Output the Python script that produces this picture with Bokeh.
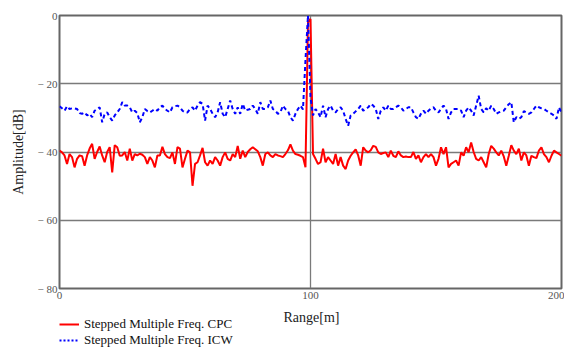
from bokeh.plotting import figure
from bokeh.models import Legend, LegendItem, Range1d, FixedTicker
from bokeh.layouts import column
from bokeh.core.properties import value
from bokeh.embed import file_html
from bokeh.resources import INLINE

range_m = list(range(201))

cpc_db = [
    -39.6, -40.1, -41, -43.5, -40.6, -41.5, -44.5, -42, -41, -41.2, -44, -41, -39, -37.6, -42, -40, -38.4,
    -41, -43, -40, -38.6, -46, -38, -38.6, -41.1, -41, -40, -42.5, -39, -42.5, -40.6, -41, -40.5,
    -40.8, -41.5, -43.5, -41.5, -42.5, -44.5, -41, -41, -38.5, -40.6, -41.5, -41.8, -40.1, -43.5, -38.6,
    -39, -44.5, -42, -39.6, -40.1, -49.9, -43.5, -43, -41, -38.8, -43, -44, -42.5, -43.5, -41.5, -42.5,
    -44, -41.5, -40.1,
    -42, -42.5, -40.6, -41.5, -38.2, -42, -39.6, -41.5, -40, -39.2, -38.6, -39.2, -39.8, -41.5, -44,
    -40.6, -40.1, -41, -41.5, -40.6, -41, -41.2, -41.5, -40.6, -39.5, -37.8, -39.6, -40.6, -40.8, -41.1,
    -41.5, -44.5,
    -2, -1, -40.6,
    -42, -43.5, -43, -39, -43, -41.5, -42.5, -43.5, -40.6, -44, -41.5, -44, -45, -42.5, -41.1, -40.1,
    -39.2, -41, -44, -38.6, -39.6, -40.1, -39.5, -38.2, -38.5, -40.1, -40.6, -40.3, -40.1, -41.5, -39.6,
    -41.1, -41.5,
    -39.8, -41, -41.5, -41.3, -41.5, -41.5, -40, -42, -41, -43, -41.5, -40.6, -41.5, -40.6, -41.5, -44,
    -42, -38.6, -40.6, -38.6, -44.5, -43.5, -43, -42.5, -44, -40.1, -41.1, -38.6, -40.1, -37.2, -40,
    -42, -42.5,
    -41.5, -43, -44.5, -40.6, -38.2, -39, -40.1, -41, -39.6, -41.3, -44, -41.1, -38, -39.6, -40.6, -39,
    -42.5, -40.1, -41, -44, -41.1, -41.5, -41.8, -39.6, -38.6, -40.6, -41.5, -43, -41.1, -39.6, -40.1,
    -40.6, -41.1,
]

icw_db = [
    -26.6, -27.2, -27.9, -26.6, -27.4, -27.2, -27.2, -27.4, -28.6, -28.8, -28.4, -29.3, -28.8, -29.8,
    -27.9, -27.4, -26.9, -31.3, -28.8, -28.4, -29.8, -30.8, -29.3, -28.4, -27.4, -25.4, -26.4, -26.4,
    -26.9, -28.4, -27.9, -28.6, -31.3,
    -29.8, -27.4, -28, -28.4, -27.9, -27.4, -27.9, -26.9, -26.4, -27.4, -27.9, -28.4, -26.9, -26.6,
    -26.4, -26.9, -27.9, -28.4, -28.4, -27.4, -26.9, -27.9, -26.4, -25.4, -25.9, -30.8, -26.4, -27.4,
    -28.8, -29.8, -28.4, -25.4, -28.8, -29.8,
    -27.4, -24.9, -27.4, -28.8, -26.9, -28.8, -25.9, -27.9, -27.6, -27.4, -26.4, -27.4, -28.8, -25.4,
    -27.4, -27.4, -26.9, -24.9, -27.4, -27.9, -28.8, -28.4, -26.4, -27.4, -27.9, -29.8, -30.8, -28.8,
    -27.4, -26.4, -27.5,
    -13, 0, -24,
    -29.3, -27.4, -28.4, -29.8, -26.4, -29.8, -27.4, -26.4, -27.9, -28.4, -27.4, -26.9, -27.9, -30.3,
    -32.3, -29.3, -28.8, -28.1, -27.4, -26.4, -27.9, -27.4, -26.9, -25.9, -26.4, -27.4, -30.3, -27.9,
    -26.9, -27.9, -26.4, -27.4, -27.4, -26.9,
    -26.4, -26.9, -27.9, -27.4, -26.9, -26.9, -28.4, -29.8, -30.3, -28.8, -27.9, -28.8, -27.9, -27.2,
    -26.9, -27.9, -28.4, -27.4, -26.4, -27.4, -30.3, -28.4, -27.4, -27.4, -27.4, -27.9, -29.8, -27.9,
    -26.9, -27.9, -29.3, -26.4, -23.5,
    -27.4, -28.4, -27.2, -27.9, -26.4, -27.4, -28.8, -28.4, -28.1, -27.9, -26.9, -26, -25.4, -31.3,
    -29.8, -30.3, -29.8, -28, -28.4, -28.8, -28.4, -27.4, -26.4, -26.9, -27.2, -27.4, -27.9, -28.4,
    -28.8, -29.3, -30.3, -26.9, -28.4,
]

x_ticks = [0, 100, 200]
y_ticks = [-80, -60, -40, -20, 0]
y_tick_labels = {-80: "\u2212 80", -60: "\u2212 60", -40: "\u2212 40", -20: "\u2212 20", 0: "0"}
x_title = "Range[m]"
y_title = "Amplitude[dB]"
legend_labels = ["Stepped Multiple Freq. CPC", "Stepped Multiple Freq. ICW"]

n = min(len(range_m), len(cpc_db), len(icw_db))
FONT = "Liberation Serif"
W = 564
H1 = 305
H2 = 42
FRAME_L, FRAME_R = 59, 561

# ---- main plot ----
p = figure(width=W, height=H1, output_backend="svg", toolbar_location=None,
           x_range=Range1d(0, 200), y_range=Range1d(-80, 0),
           min_border_left=FRAME_L, min_border_right=W - FRAME_R, min_border_top=15, min_border_bottom=17,
           y_axis_label=y_title)
p.background_fill_color = "white"
p.border_fill_color = "white"
p.outline_line_color = "#666666"
p.outline_line_width = 2

r_cpc = p.line(range_m[:n], cpc_db[:n], line_color="#ff0000", line_width=2)
r_icw = p.line(range_m[:n], icw_db[:n], line_color="#0000ff", line_width=2, line_dash="4 3")

for ax in (p.xaxis[0], p.yaxis[0]):
    ax.axis_line_color = None
    ax.major_tick_line_color = None
    ax.minor_tick_line_color = None
    ax.major_tick_out = 0
    ax.major_tick_in = 0
    ax.minor_tick_out = 0
    ax.minor_tick_in = 0
    ax.major_label_text_font = FONT
    ax.major_label_text_font_size = "11px"
    ax.major_label_text_color = "#555555"
    ax.axis_label_text_font = FONT
    ax.axis_label_text_font_size = "14px"
    ax.axis_label_text_font_style = "normal"
    ax.axis_label_text_color = "#222222"

p.xaxis[0].ticker = FixedTicker(ticks=x_ticks)
p.yaxis[0].ticker = FixedTicker(ticks=y_ticks)
p.yaxis[0].major_label_overrides = y_tick_labels
p.yaxis[0].major_label_standoff = 2
p.yaxis[0].axis_label_standoff = 9
p.xaxis[0].major_label_standoff = 3

p.xgrid.grid_line_color = "#7a7a7a"
p.xgrid.grid_line_width = 1.3
p.ygrid.grid_line_color = "#7a7a7a"
p.ygrid.grid_line_width = 1.3

# ---- strip below: axis title and legend (its frame is aligned with the plot frame) ----
q = figure(width=W, height=H2, output_backend="svg", toolbar_location=None,
           x_range=Range1d(FRAME_L, FRAME_R), y_range=Range1d(0, H2),
           x_axis_type=None, y_axis_type=None, min_border=0,
           min_border_left=FRAME_L, min_border_right=W - FRAME_R)
q.outline_line_color = None
q.background_fill_color = "white"
q.border_fill_color = "white"
q.grid.visible = False

# hidden copies (outside this strip's ranges) only to provide legend glyphs
l_cpc = q.line(range_m[:n], cpc_db[:n], line_color="#ff0000", line_width=2)
l_icw = q.line(range_m[:n], icw_db[:n], line_color="#0000ff", line_width=2, line_dash="2 2")

q.text(x=[311], y=[30], text=[x_title], text_align="center", text_baseline="middle",
       text_font=value(FONT), text_font_size="14px", text_color="#222222")

legend = Legend(items=[LegendItem(label=legend_labels[0], renderers=[l_cpc]),
                       LegendItem(label=legend_labels[1], renderers=[l_icw])],
                location=(0, -1), orientation="vertical")
legend.border_line_color = None
legend.background_fill_alpha = 0
legend.padding = 0
legend.margin = 0
legend.spacing = 0
legend.glyph_width = 20
legend.glyph_height = 12
legend.label_height = 12
legend.label_standoff = 5
legend.label_text_font = FONT
legend.label_text_font_size = "13px"
legend.label_text_font_style = "normal"
legend.label_text_color = "#111111"
q.add_layout(legend, "center")

layout = column(p, q)
open("out.html", "w").write(file_html(layout, INLINE))
